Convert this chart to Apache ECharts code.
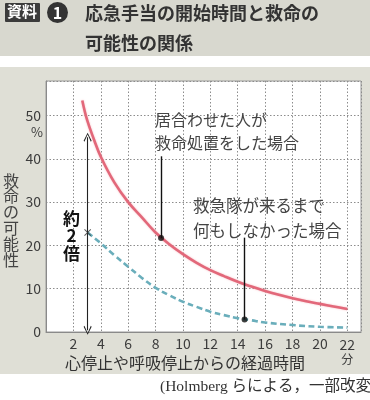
<!DOCTYPE html>
<html><head><meta charset="utf-8">
<script src="https://cdn.jsdelivr.net/npm/echarts@6/dist/echarts.min.js"></script>
<style>html,body{margin:0;padding:0;background:#fff;}#c{width:370px;height:400px;}</style>
</head><body><div id="c"></div>
<script>
// Data
const redT = [2.65, 3, 3.5, 4, 5, 6, 7, 8, 9, 10, 11, 12, 13, 14, 15, 16, 17, 18, 19, 20, 21, 22];
const redV = [53.5, 49, 44.5, 40.5, 34.5, 30, 26.5, 23, 20.3, 18, 16, 14.3, 12.9, 11.6, 10.5, 9.5, 8.6, 7.8, 7.1, 6.5, 5.9, 5.3];
const blueT = [3.04, 4, 5, 6, 7, 8, 9, 10, 11, 12, 13, 14, 15, 16, 18, 20, 22];
const blueV = [23, 20.5, 17.7, 15.1, 12.5, 10.2, 8.5, 7.0, 5.8, 4.7, 3.9, 3.2, 2.7, 2.2, 1.6, 1.2, 1.0];
const redDot = [8.4, 21.7];
const blueDot = [14.5, 2.9];
const redLeaderTop = 40.6;
const blueLeaderTop = 21.8;
const arrowT = 3.04, arrowBottom = 0.4, arrowTop = 45;
const xTicks = [2, 4, 6, 8, 10, 12, 14, 16, 18, 20, 22];
const yTicks = [0, 10, 20, 30, 40, 50];

const chart = echarts.init(document.getElementById('c'), null, {renderer: 'canvas'});
const FONT = '"Noto Sans CJK JP", "Noto Sans", sans-serif';
const chevron = 'path://M5,0 L10,9 L9,10 L5,2 L1,10 L0,9 Z';
const cross = 'path://M0,1 L1,0 L5,4 L9,0 L10,1 L6,5 L10,9 L9,10 L5,6 L1,10 L0,9 L4,5 Z';

chart.setOption({
  animation: false,
  backgroundColor: '#ffffff',
  textStyle: {fontFamily: FONT},
  grid: {left: 46, right: 9, top: 81, bottom: 68, show: true, backgroundColor: '#ffffff', borderColor: '#9a9a9a', borderWidth: 1},
  xAxis: {
    type: 'value', min: 0, max: 23, interval: 2,
    axisLine: {show: true, onZero: false, lineStyle: {color: '#8a8a8a', width: 1}},
    axisTick: {show: false},
    splitLine: {show: true, lineStyle: {color: '#8c8c8c', type: [1.5, 2], width: 1}},
    axisLabel: {
      margin: 5, color: '#3c3c3c', fontSize: 14, fontFamily: FONT,
      formatter: v => xTicks.indexOf(v) < 0 ? '' : (v === 22 ? '{n|22}\n{u|分}' : String(v)),
      rich: {n: {fontSize: 14, color: '#3c3c3c', lineHeight: 15}, u: {fontSize: 12, color: '#3c3c3c', lineHeight: 14}}
    }
  },
  yAxis: {
    type: 'value', min: 0, max: 58, interval: 10,
    axisLine: {show: true, lineStyle: {color: '#8a8a8a', width: 1}},
    axisTick: {show: false},
    splitLine: {show: true, lineStyle: {color: '#8c8c8c', type: [1.5, 2], width: 1}},
    axisLabel: {
      margin: 5, color: '#3c3c3c', fontSize: 14, fontFamily: FONT,
      formatter: v => yTicks.indexOf(v) < 0 ? '' : String(v)
    }
  },
  series: [
    {
      type: 'line', smooth: 0.4, symbol: 'none',
      data: redT.map((t, i) => [t, redV[i]]),
      lineStyle: {color: '#e2687a', width: 2.6, shadowColor: 'rgba(240,140,150,0.6)', shadowBlur: 2},
      z: 3,
      markLine: {
        silent: true, symbol: ['none', 'none'], label: {show: false},
        lineStyle: {color: '#111', width: 1.4, type: 'solid'},
        data: [
          [{coord: [redDot[0], redDot[1]]}, {coord: [redDot[0], redLeaderTop]}],
          [{coord: [blueDot[0], blueDot[1]]}, {coord: [blueDot[0], blueLeaderTop]}]
        ]
      }
    },
    {
      type: 'line', smooth: 0.4, symbol: 'none',
      data: blueT.map((t, i) => [t, blueV[i]]),
      lineStyle: {color: '#6aaebb', width: 2.6, type: [6, 3.5]},
      z: 3,
      markLine: {
        silent: true, symbol: [chevron, chevron], symbolSize: [8, 9], label: {show: false},
        lineStyle: {color: '#222', width: 1.1, type: 'solid'},
        data: [[{coord: [arrowT, arrowBottom]}, {coord: [arrowT, arrowTop]}]]
      }
    },
    {
      type: 'scatter', symbol: 'circle', symbolSize: 6, z: 5,
      itemStyle: {color: '#111'},
      data: [redDot, blueDot]
    },
    {
      type: 'scatter', symbol: cross, symbolSize: 7, z: 5,
      itemStyle: {color: '#333'},
      data: [[arrowT, blueV[0]]]
    }
  ],
  graphic: [
    {type: 'rect', z: -10, shape: {x: 0, y: 0, width: 370, height: 56}, style: {fill: '#d8d8cf'}},
    {type: 'rect', z: -10, shape: {x: 0, y: 67, width: 370, height: 307}, style: {fill: '#dfdfd6'}},
    {type: 'rect', z: 10, shape: {x: 5, y: 3, width: 35, height: 19, r: 1}, style: {fill: '#3b3b3b'}},
    {type: 'text', z: 11, left: 7, top: 4, style: {text: '資料', fill: '#fff', font: 'bold 15px ' + FONT}},
    {type: 'circle', z: 10, shape: {cx: 57.5, cy: 12.5, r: 10.5}, style: {fill: '#333'}},
    {type: 'text', z: 11, style: {x: 57.5, y: 12.5, text: '1', fill: '#fff', font: 'bold 16px ' + FONT, align: 'center', verticalAlign: 'middle'}},
    {type: 'text', z: 11, style: {x: 85, y: 13, text: '応急手当の開始時間と救命の', fill: '#333', font: 'bold 18px ' + FONT, verticalAlign: 'middle'}},
    {type: 'text', z: 11, style: {x: 85, y: 43, text: '可能性の関係', fill: '#333', font: 'bold 18px ' + FONT, verticalAlign: 'middle'}},
    {type: 'text', z: 11, style: {x: 11, y: 220, text: '救\n命\nの\n可\n能\n性', fill: '#444', font: '16px ' + FONT, lineHeight: 15.8, align: 'center', verticalAlign: 'middle'}},
    {type: 'text', z: 11, style: {x: 37, y: 132, text: '%', fill: '#3c3c3c', font: '13px ' + FONT, align: 'center', verticalAlign: 'middle'}},
    {type: 'text', z: 11, style: {x: 65, y: 363, text: '心停止や呼吸停止からの経過時間', fill: '#333', font: '16px ' + FONT, verticalAlign: 'middle'}},
    {type: 'text', z: 11, style: {x: 71.5, y: 236, text: '約\n2\n倍', fill: '#111', font: 'bold 17px ' + FONT, lineHeight: 17.5, align: 'center', verticalAlign: 'middle'}},
    {type: 'text', z: 11, style: {x: 155, y: 120, text: '居合わせた人が', fill: '#444', font: '16px ' + FONT, verticalAlign: 'middle'}},
    {type: 'text', z: 11, style: {x: 155, y: 143, text: '救命処置をした場合', fill: '#444', font: '16px ' + FONT, verticalAlign: 'middle'}},
    {type: 'text', z: 11, style: {x: 193, y: 206, text: '救急隊が来るまで', fill: '#444', font: '16.5px ' + FONT, verticalAlign: 'middle'}},
    {type: 'text', z: 11, style: {x: 193, y: 231, text: '何もしなかった場合', fill: '#444', font: '16.5px ' + FONT, verticalAlign: 'middle'}},
    {type: 'text', z: 11, style: {x: 160, y: 387, text: '(Holmberg らによる，一部改変）', fill: '#333', font: '15.5px "Liberation Serif", "Noto Sans CJK JP", serif', verticalAlign: 'middle'}}
  ]
});
</script></body></html>
